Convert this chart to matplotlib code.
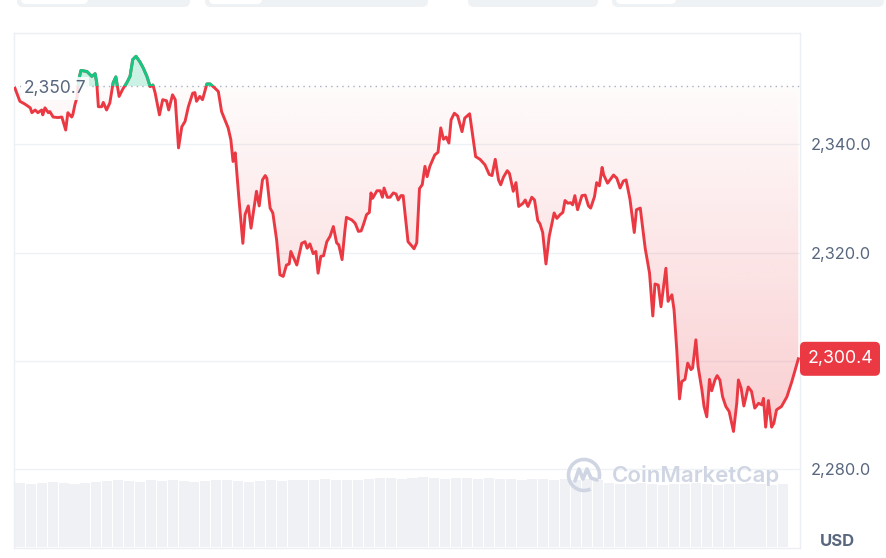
import matplotlib
matplotlib.use("Agg")
import matplotlib.pyplot as plt
import numpy as np
from matplotlib.patches import FancyBboxPatch, Arc, Polygon, Rectangle
from matplotlib.transforms import IdentityTransform
from matplotlib.lines import Line2D

plt.rcParams['font.family'] = ['Inter', 'DejaVu Sans']

# minutes since the start of the 24h window
minutes = [0, 9, 18, 28, 31, 37, 42, 49, 51, 55,
           61, 64, 70, 79, 86, 93, 97, 104, 106, 110,
           114, 117, 121, 132, 141, 147, 150, 153, 159, 162,
           168, 174, 180, 185, 191, 198, 205, 211, 216, 222,
           229, 235, 242, 248, 253, 257, 265, 271, 278, 282,
           289, 294, 300, 306, 312, 318, 326, 330, 333, 339,
           344, 352, 358, 367, 373, 379, 391, 396, 400, 404,
           411, 418, 422, 428, 433, 443, 448, 454, 459, 462,
           468, 473, 480, 486, 492, 498, 503, 506, 517, 526,
           532, 536, 541, 547, 552, 556, 561, 566, 572, 578,
           584, 590, 594, 600, 605, 608, 618, 624, 630, 635,
           639, 645, 650, 653, 656, 664, 670, 674, 677, 683,
           688, 694, 699, 703, 708, 712, 721, 728, 732, 737,
           742, 747, 752, 756, 761, 770, 776, 781, 786, 791,
           796, 800, 806, 812, 820, 825, 834, 845, 853, 862,
           870, 875, 881, 887, 891, 896, 903, 907, 914, 919,
           924, 932, 936, 941, 948, 953, 959, 963, 968, 974,
           980, 989, 994, 1000, 1005, 1009, 1014, 1019, 1023, 1027,
           1032, 1040, 1046, 1052, 1056, 1063, 1067, 1072, 1077, 1080,
           1087, 1093, 1098, 1104, 1110, 1116, 1121, 1128, 1136, 1140,
           1147, 1156, 1164, 1170, 1174, 1180, 1185, 1194, 1198, 1205,
           1209, 1214, 1219, 1223, 1229, 1234, 1240, 1243, 1249, 1253,
           1260, 1264, 1269, 1274, 1278, 1284, 1288, 1293, 1298, 1304,
           1310, 1318, 1324, 1327, 1332, 1337, 1345, 1351, 1357, 1364,
           1370, 1373, 1377, 1382, 1388, 1392, 1397, 1406, 1416, 1425,
           1437]

price = [2350.3, 2347.9, 2347.4, 2346.7, 2345.8, 2346.3, 2345.8, 2346.3, 2345.4, 2346.7,
         2345.8, 2346.0, 2345.0, 2344.9, 2345.0, 2342.6, 2345.8, 2345.0, 2345.4, 2347.3,
         2348.7, 2351.9, 2353.6, 2353.4, 2352.5, 2353.0, 2351.3, 2346.9, 2346.9, 2347.7,
         2346.3, 2347.6, 2351.3, 2352.4, 2348.8, 2350.2, 2351.3, 2352.5, 2355.6, 2356.2,
         2355.2, 2354.1, 2352.5, 2350.6, 2350.9, 2349.5, 2345.4, 2348.2, 2348.0, 2346.3,
         2349.1, 2348.2, 2339.3, 2343.2, 2344.2, 2346.9, 2349.4, 2349.5, 2347.9, 2348.8,
         2348.2, 2351.1, 2351.1, 2350.3, 2349.7, 2346.0, 2343.0, 2340.8, 2336.8, 2338.4,
         2329.7, 2321.7, 2327.0, 2328.6, 2324.5, 2331.3, 2328.6, 2333.4, 2334.2, 2333.7,
         2328.2, 2327.3, 2322.3, 2315.9, 2315.6, 2317.7, 2317.9, 2320.2, 2317.7, 2321.7,
         2322.0, 2320.8, 2321.6, 2319.8, 2320.2, 2316.2, 2319.3, 2319.4, 2322.0, 2323.0,
         2324.8, 2321.8, 2321.4, 2318.7, 2323.9, 2326.5, 2326.0, 2325.4, 2323.9, 2324.0,
         2325.1, 2327.0, 2327.4, 2331.0, 2330.0, 2331.4, 2331.4, 2330.2, 2331.9, 2330.2,
         2330.2, 2331.0, 2330.8, 2329.7, 2330.5, 2330.5, 2322.0, 2321.2, 2320.7, 2321.8,
         2331.8, 2332.5, 2335.9, 2334.0, 2335.9, 2338.0, 2338.5, 2343.0, 2340.9, 2341.3,
         2340.2, 2344.5, 2345.7, 2345.2, 2342.3, 2344.8, 2345.6, 2337.7, 2337.2, 2336.2,
         2334.4, 2334.2, 2337.2, 2333.4, 2332.5, 2333.9, 2335.1, 2334.6, 2331.3, 2332.9,
         2328.5, 2329.1, 2329.7, 2328.5, 2330.2, 2329.7, 2325.9, 2325.3, 2323.7, 2317.9,
         2323.0, 2327.3, 2326.3, 2327.0, 2327.4, 2329.6, 2329.1, 2329.2, 2328.8, 2330.5,
         2327.9, 2330.5, 2330.6, 2328.6, 2328.2, 2330.3, 2332.9, 2332.3, 2335.7, 2334.3,
         2332.8, 2333.6, 2334.3, 2333.7, 2331.9, 2333.2, 2333.4, 2329.9, 2323.7, 2327.9,
         2328.2, 2320.8, 2316.2, 2308.3, 2314.2, 2314.0, 2310.0, 2317.1, 2311.0, 2312.2,
         2309.4, 2302.0, 2293.0, 2296.2, 2296.6, 2299.6, 2298.4, 2298.7, 2303.9, 2299.0,
         2294.7, 2291.6, 2289.7, 2296.6, 2294.5, 2296.5, 2297.3, 2296.5, 2293.4, 2291.6,
         2290.7, 2287.0, 2292.2, 2296.5, 2295.0, 2291.7, 2295.2, 2294.4, 2291.3, 2292.2,
         2291.9, 2293.1, 2287.8, 2292.7, 2287.8, 2288.5, 2291.0, 2291.6, 2293.4, 2296.2,
         2300.4]

base_price = 2350.7
last_price = 2300.4
price_ticks = [2280, 2300, 2320, 2340]
# the 2,300.0 label sits under the current-price tag in the original
tick_labels = ["2,280.0", "", "2,320.0", "2,340.0"]

# volume, one bar per 20 minutes (relative units)
vol_step = 20
volume = [90, 89, 90, 91, 90, 89, 90, 91,
          93, 94, 93, 92, 94, 93, 94, 93, 92, 93, 94, 94, 93, 92, 93, 94, 93,
          95, 94, 95, 96, 95, 94, 95,
          96, 97, 97, 96, 97, 98, 97, 96, 97, 97, 96, 97, 96,
          96, 95, 96, 96, 95, 96, 95, 96, 95,
          90, 89, 89, 90, 89, 88, 89, 89, 90, 89, 88, 89, 89, 90, 89, 88, 89]

red = '#ea3943'
green = '#16c784'
gray_txt = '#58667e'

t = np.array(minutes, dtype=float)
p = np.array(price)

W, H = 886, 558
fig = plt.figure(figsize=(W / 100, H / 100), dpi=100)
fig.patch.set_facecolor('white')

xlim = (-1.8, 1440)
ax_vol = fig.add_axes([14 / W, 11 / H, 786 / W, 71 / H])
ax_vol.set_zorder(1)
vol_x = np.arange(len(volume)) * vol_step
ax_vol.bar(vol_x, volume, width=vol_step * 0.92, align='edge', color='#eff1f5', lw=0)
ax_vol.set_xlim(*xlim)
ax_vol.set_ylim(0, 100)
ax_vol.axis('off')

ax = fig.add_axes([14 / W, 10 / H, 786 / W, 515 / H])
ax.set_zorder(2)
ax.set_facecolor('none')
ax.set_xlim(*xlim)
ax.set_ylim(2265.5, 2360.5)

for s in ax.spines.values():
    s.set_color('#eceff3')
    s.set_linewidth(1)

ax.set_yticks(price_ticks)
ax.set_yticklabels(tick_labels)
ax.yaxis.tick_right()
ax.tick_params(axis='y', length=0, pad=8, labelsize=11.8, labelcolor=gray_txt)
ax.set_xticks([])
ax.grid(axis='y', color='#eff2f5', lw=1)
ax.set_axisbelow(True)

# red gradient under the baseline
below = np.minimum(p, base_price)
poly = np.vstack([np.column_stack([t, below]),
                  np.column_stack([t[::-1], np.full(len(t), base_price)])])
clip = Polygon(poly, closed=True, transform=ax.transData, fc='none', ec='none')
ax.add_patch(clip)
n = 256
grad = np.zeros((n, 1, 4))
grad[:, 0, 0] = 234 / 255
grad[:, 0, 1] = 57 / 255
grad[:, 0, 2] = 67 / 255
grad[:, 0, 3] = np.linspace(0.25, 0.02, n)
im = ax.imshow(grad, extent=(t[0], t[-1], 2286, base_price), origin='lower',
               aspect='auto', interpolation='bilinear', zorder=1)
im.set_clip_path(clip)
ax.set_xlim(*xlim)
ax.set_ylim(2265.5, 2360.5)

# green fill above the baseline
ax.fill_between(t, p, base_price, where=p > base_price, interpolate=True,
                color=green, alpha=0.22, lw=0, zorder=1)

ax.axhline(base_price, color='#a6b0c3', lw=1, ls=(0, (1, 3)), zorder=2)

ax.plot(t, p, color=red, lw=2.1, solid_joinstyle='round', zorder=3)
gl, = ax.plot(t, p, color=green, lw=2.1, solid_joinstyle='round', zorder=4)
gl.set_clip_path(Rectangle((xlim[0], base_price), xlim[1] - xlim[0], 20,
                           transform=ax.transData))

ax.text(10 / 786, base_price - 0.4, f"{base_price:,.1f}", transform=ax.get_yaxis_transform(),
        fontsize=12.5, color=gray_txt, va='center', ha='left', zorder=6,
        bbox=dict(fc='white', ec='none', alpha=0.85, pad=2))

# current price tag
y_px = ax.transData.transform((0, last_price))[1]
tag = FancyBboxPatch((800, y_px - 17), 80, 34, boxstyle='round,pad=0,rounding_size=5',
                     transform=IdentityTransform(), fc=red, ec='none', zorder=5)
fig.add_artist(tag)
fig.text(840, y_px, f"{last_price:,.1f}", transform=IdentityTransform(),
         color='white', fontsize=12.8, ha='center', va='center', zorder=6)

fig.text(837, H - 541, "USD", transform=IdentityTransform(), color=gray_txt,
         fontsize=12, weight='bold', ha='center', va='center')

# watermark
wm = '#cfd5e2'
fig.text(612, H - 476, "CoinMarketCap", transform=IdentityTransform(), color=wm,
         fontsize=16, weight='semibold', ha='left', va='center', zorder=7)
cx, cy = 584, H - 475
fig.add_artist(Arc((cx, cy), 31, 31, theta1=-15, theta2=295, lw=2.6, color=wm,
                   transform=IdentityTransform(), zorder=7))
mx = [cx - 9, cx - 5, cx - 1, cx + 3, cx + 7, cx + 13]
my = [cy - 6, cy + 6, cy - 4, cy + 6, cy - 3, cy - 5]
fig.add_artist(Line2D(mx, my, lw=2.6, color=wm, transform=IdentityTransform(),
                      solid_joinstyle='round', solid_capstyle='round', zorder=7))

# top tabs (cut off)
for x0, x1, inner in [(17, 190, (21, 88)), (205, 428, (209, 262)),
                      (468, 598, None), (612, 884, (616, 676))]:
    fig.add_artist(FancyBboxPatch((x0, H - 7), x1 - x0, 20,
                                  boxstyle='round,pad=0,rounding_size=6',
                                  transform=IdentityTransform(), fc='#eff2f5', ec='none'))
    if inner:
        fig.add_artist(FancyBboxPatch((inner[0], H - 4), inner[1] - inner[0], 20,
                                      boxstyle='round,pad=0,rounding_size=5',
                                      transform=IdentityTransform(), fc='white', ec='none'))

fig.savefig("out.png", dpi=100, facecolor='white')
